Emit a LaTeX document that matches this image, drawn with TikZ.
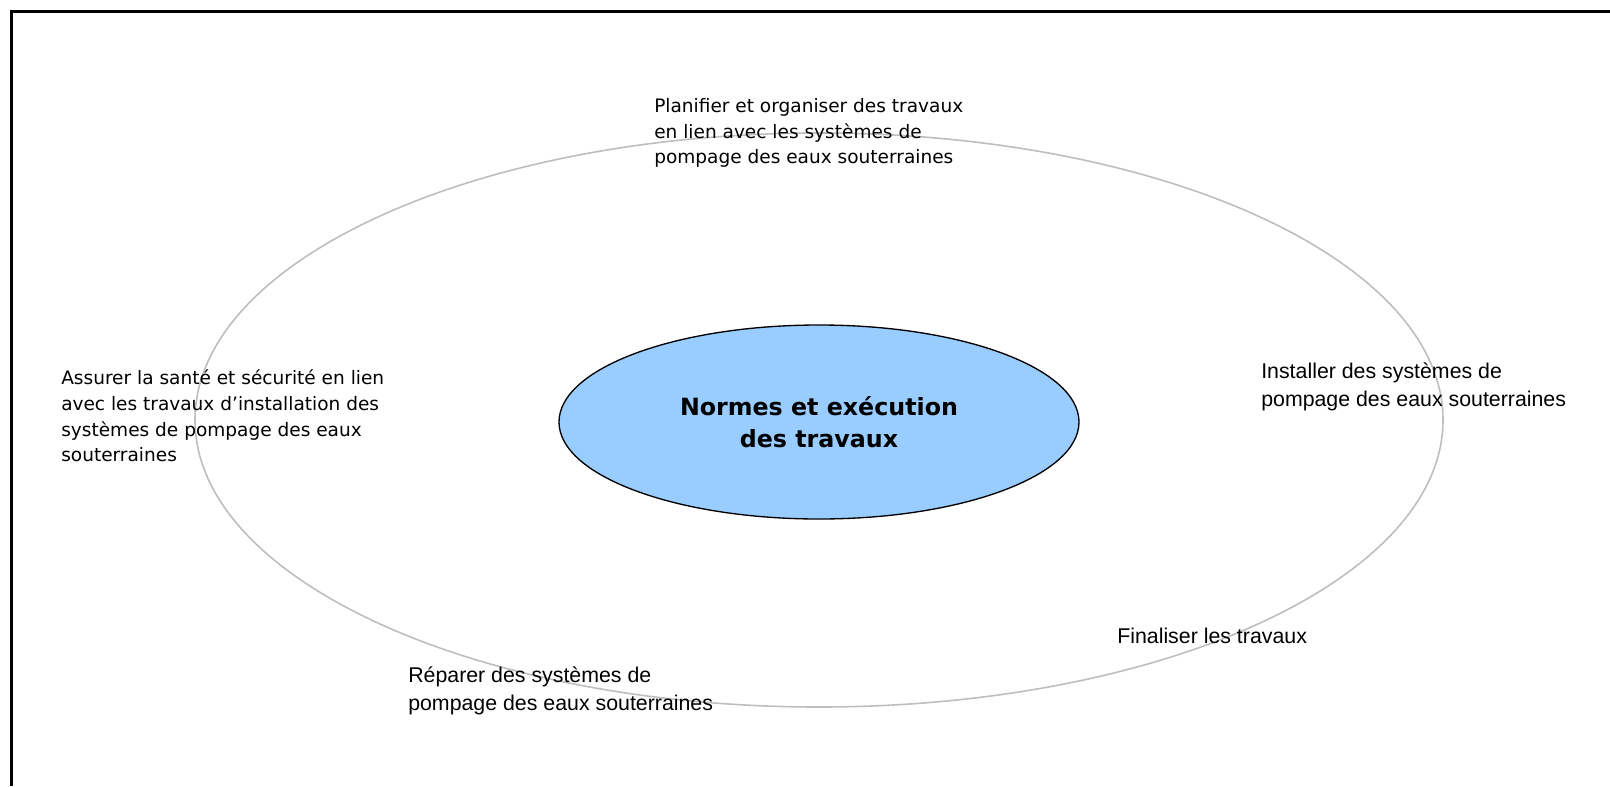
\documentclass[tikz,border=0pt]{standalone}
\usepackage{fontspec}
\setmainfont{DejaVu Sans}
\newfontfamily\arialfont{Liberation Sans}
\usetikzlibrary{shapes.geometric}
\definecolor{coreblue}{HTML}{99CCFF}
\definecolor{ringgray}{HTML}{BEBEBE}

\begin{document}
\begin{tikzpicture}[x=0.75pt,y=-0.75pt,
	tahomatext/.style={align=left,anchor=west,inner sep=0,font=\fontsize{13.9}{19.2}\selectfont},
	arialtext/.style={align=left,anchor=west,inner sep=0,font=\arialfont\fontsize{16}{21}\selectfont}]
	\useasboundingbox (0,0) rectangle (1610,786);
	\draw[line width=1.6pt] (11.5,786) -- (11.5,11.5) -- (1610,11.5);
	\node[draw=ringgray,line width=1.2pt,ellipse,minimum width=936pt,minimum height=430.5pt] (ring) at (819,420) {};
	\node[draw,line width=1pt,fill=coreblue,ellipse,minimum width=390pt,minimum height=145.5pt,align=center,font=\bfseries\fontsize{17.8}{24}\selectfont] (core) at (819,422) {Normes et exécution\\des travaux};
	\node[tahomatext] (plan) at (654,133) {Planifier et organiser des travaux\\en lien avec les systèmes de\\pompage des eaux souterraines};
	\node[tahomatext] (safety) at (61,416) {Assurer la santé et sécurité en lien\\avec les travaux d’installation des\\systèmes de pompage des eaux\\souterraines};
	\node[arialtext] (install) at (1261,387) {Installer des systèmes de\\pompage des eaux souterraines};
	\node[arialtext] (finish) at (1117,636) {Finaliser les travaux};
	\node[arialtext] (repair) at (408,691) {Réparer des systèmes de\\pompage des eaux souterraines};
\end{tikzpicture}
\end{document}
